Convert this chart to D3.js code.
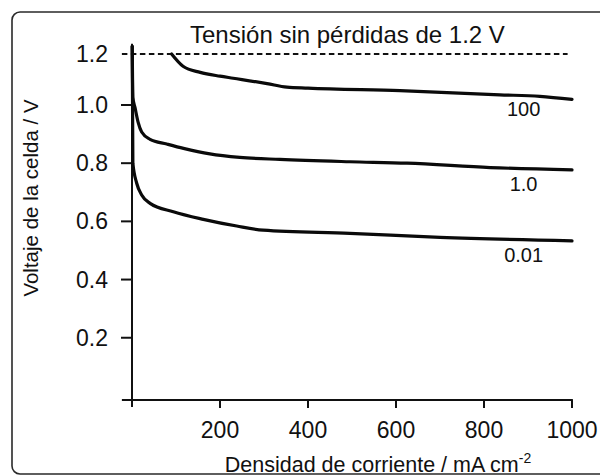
<!DOCTYPE html>
<html><head><meta charset="utf-8">
<script src="https://cdn.jsdelivr.net/npm/d3@7"></script>
<style>
html,body{margin:0;padding:0;background:#fff;}
svg text{font-family:"Liberation Sans",Arial,Helvetica,sans-serif;fill:#111;}
</style></head>
<body>
<svg id="c" width="600" height="476"></svg>
<script>
// ---- data ----
const xTicks = [200, 400, 600, 800, 1000];
const yTicks = [0.2, 0.4, 0.6, 0.8, 1.0, 1.2];
const yTickLabels = ["0.2", "0.4", "0.6", "0.8", "1.0", "1.2"];
const lossless = 1.2;
const seriesNames = ["100", "1.0", "0.01"];
const curve100 = [[90,1.20],[116,1.152],[155,1.128],[200,1.113],[230,1.105],[307,1.084],[352,1.070],[400,1.066],[609,1.056],[836,1.040],[927,1.034],[1000,1.022]];
const curve1 = [[0.5,1.23],[2,1.03],[7,0.99],[14,0.94],[22,0.907],[41,0.882],[79,0.866],[117,0.851],[177,0.832],[245,0.820],[336,0.813],[495,0.805],[625,0.800],[814,0.785],[1000,0.777]];
const curve001 = [[0.5,1.23],[2,0.80],[10.7,0.731],[22,0.691],[41,0.662],[94,0.633],[162,0.607],[238,0.584],[298,0.570],[495,0.559],[700,0.545],[1000,0.533]];
const labelAnchors = [[890,0.985],[890,0.727],[890,0.483]];
const annotation = "Tensión sin pérdidas de 1.2 V";
const xTitle = "Densidad de corriente / mA cm";
const xTitleSup = "-2";
const yTitle = "Voltaje de la celda / V";

const svg = d3.select("#c");
// frame
svg.append("rect").attr("x",12).attr("y",12).attr("width",600).attr("height",462)
  .attr("rx",8).attr("fill","none").attr("stroke","#2a2a2a").attr("stroke-width",1.6);

const x = d3.scaleLinear().domain([0,1000]).range([132,572]);
const y = d3.scaleLinear().domain([-0.014,1.0,1.2]).range([400,105,54]);

const g = svg.append("g");
// axes lines
g.append("line").attr("x1",x(-23)).attr("x2",x(1002)).attr("y1",y(-0.014)).attr("y2",y(-0.014))
  .attr("stroke","#111").attr("stroke-width",2);
g.append("line").attr("x1",x(0)).attr("x2",x(0)).attr("y1",y(-0.014)+7).attr("y2",y(1.24))
  .attr("stroke","#111").attr("stroke-width",2);

// x ticks
const xa = g.selectAll(".xt").data(xTicks).enter().append("g");
xa.append("line").attr("x1",d=>x(d)).attr("x2",d=>x(d)).attr("y1",y(-0.014)).attr("y2",y(-0.014)+8)
  .attr("stroke","#111").attr("stroke-width",2);
xa.append("text").attr("x",d=>x(d)).attr("y",438).attr("text-anchor","middle")
  .attr("font-size",23).text(d=>d);

// y ticks
const ya = g.selectAll(".yt").data(yTicks).enter().append("g");
ya.filter(d=>d<1.1).append("line").attr("x1",x(0)-11).attr("x2",x(0)).attr("y1",d=>y(d)).attr("y2",d=>y(d))
  .attr("stroke","#111").attr("stroke-width",2);
ya.append("text").attr("x",108).attr("y",d=>y(d)+8).attr("text-anchor","end")
  .attr("font-size",23).text((d,i)=>yTickLabels[i]);

// dashed lossless line
g.append("line").attr("x1",x(-23)).attr("x2",x(990)).attr("y1",y(lossless)).attr("y2",y(lossless))
  .attr("stroke","#111").attr("stroke-width",2.2).attr("stroke-dasharray","5.5,3.5");

// curves
const line = d3.line().x(d=>x(d[0])).y(d=>y(d[1])).curve(d3.curveMonotoneX);
[curve100, curve1, curve001].forEach(c=>{
  g.append("path").attr("d",line(c)).attr("fill","none").attr("stroke","#0a0a0a")
    .attr("stroke-width",3.2).attr("stroke-linejoin","round").attr("stroke-linecap","round");
});

// series labels
g.selectAll(".sl").data(seriesNames).enter().append("text")
  .attr("x",(d,i)=>x(labelAnchors[i][0])).attr("y",(d,i)=>y(labelAnchors[i][1])+7)
  .attr("text-anchor","middle").attr("font-size",20).text(d=>d);

// annotation
g.append("text").attr("x",190).attr("y",43).attr("font-size",24).text(annotation);

// axis titles
const xt = g.append("text").attr("x",378).attr("y",472).attr("text-anchor","middle").attr("font-size",21.5);
xt.append("tspan").text(xTitle);
xt.append("tspan").attr("dy",-9).attr("font-size",14).text(xTitleSup);
g.append("text").attr("transform","translate(38,198) rotate(-90)").attr("text-anchor","middle")
  .attr("font-size",20.5).text(yTitle);
</script>
</body></html>
